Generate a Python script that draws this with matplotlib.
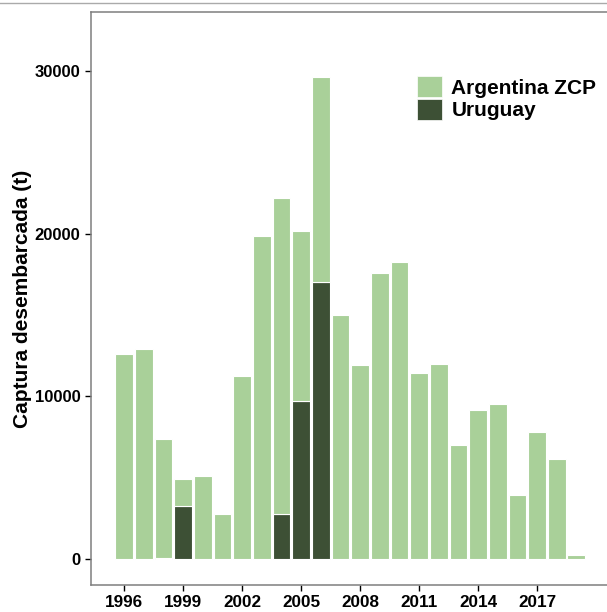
import matplotlib
matplotlib.use("Agg")
import matplotlib.pyplot as plt
from matplotlib.patches import Patch
from matplotlib.lines import Line2D
import numpy as np

years = list(range(1996, 2020))
uruguay = [0, 0, 80, 3240, 0, 0, 0, 0, 2765, 9730, 17020, 0,
           0, 0, 0, 0, 0, 0, 0, 0, 0, 0, 0, 0]
argentina = [12600, 12890, 7295, 1660, 5100, 2765, 11270, 19830, 19425, 10450, 12600, 15020,
             11940, 17560, 18240, 11410, 12000, 6990, 9140, 9530, 3910, 7790, 6130, 265]
xticks = [1996, 1999, 2002, 2005, 2008, 2011, 2014, 2017]
yticks = [0, 10000, 20000, 30000]

light = "#A9D099"
dark = "#3D5035"

plt.rcParams['font.family'] = ['Liberation Sans', 'DejaVu Sans']
plt.rcParams['font.weight'] = 'bold'

fig = plt.figure(figsize=(6.07, 6.12), dpi=100)
ax = fig.add_axes([90.7/607, 27/612, 1 - 90.7/607, (585-12.3)/612])

yrs = np.array(years)
ax.bar(yrs, uruguay, width=0.9, color=dark, edgecolor="white", linewidth=0.8, zorder=2)
ax.bar(yrs, argentina, width=0.9, bottom=uruguay, color=light, edgecolor="white", linewidth=0.8, zorder=2)

ax.set_xlim(1994.29, 2020.56)
ax.set_ylim(-1600, 33600)
ax.set_xticks(xticks)
ax.set_xticklabels([str(t) for t in xticks], fontsize=12.3, fontweight='bold')
ax.set_yticks(yticks)
ax.set_yticklabels([str(t) for t in yticks], fontsize=12, fontweight='bold')
ax.tick_params(axis='both', direction='out', length=4, width=1, color='#555555', colors='black')
ax.tick_params(axis='both', colors='black')
for s in ['left', 'bottom', 'top']:
    ax.spines[s].set_color('#7f7f7f')
    ax.spines[s].set_linewidth(1.1)
ax.spines['right'].set_visible(False)

ax.set_ylabel("Captura desembarcada (t)", fontsize=15, fontweight='bold', labelpad=2)

handles = [Patch(facecolor=light, edgecolor='white', linewidth=0.5, label="Argentina ZCP"),
           Patch(facecolor=dark, edgecolor='white', linewidth=0.5, label="Uruguay")]
leg = ax.legend(handles=handles, loc='upper left', bbox_to_anchor=((417-90.7)/516.3, (585-76)/572.7),
                frameon=False, fontsize=15, handlelength=1.2, handleheight=1.2,
                labelspacing=0.05, handletextpad=0.45, borderaxespad=0, borderpad=0)
for t in leg.get_texts():
    t.set_fontweight('bold')

fig.add_artist(Line2D([0, 1], [1 - 3/612, 1 - 3/612], color='#aaaaaa', linewidth=1, transform=fig.transFigure))

fig.savefig("out.png", dpi=100)
